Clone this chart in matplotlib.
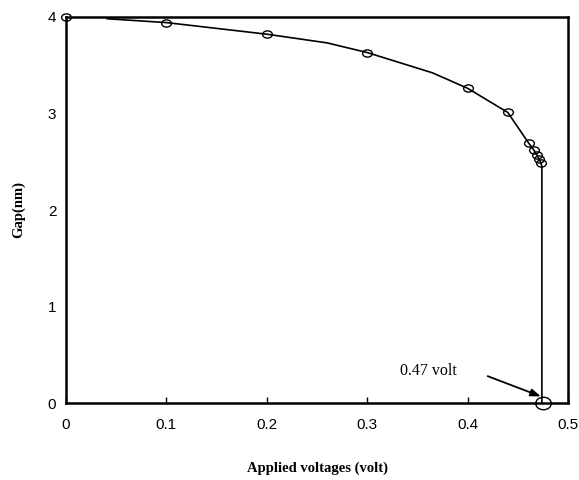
import matplotlib
matplotlib.use("Agg")
import matplotlib.pyplot as plt
from matplotlib.markers import MarkerStyle
from matplotlib.transforms import Affine2D

# marker data (volt, nm)
volts = [0.0, 0.10, 0.20, 0.30, 0.40, 0.44, 0.461, 0.466, 0.469, 0.471, 0.473]
gap = [4.0, 3.94, 3.82, 3.63, 3.26, 3.01, 2.69, 2.62, 2.57, 2.53, 2.49]

# connecting curve (starts a bit right of zero, then drops vertically at pull-in)
line_volts = [0.041, 0.10, 0.20, 0.26, 0.30, 0.365, 0.40, 0.44, 0.461, 0.466, 0.469, 0.471, 0.473, 0.474, 0.474]
line_gap = [3.98, 3.94, 3.82, 3.73, 3.63, 3.42, 3.26, 3.01, 2.69, 2.62, 2.57, 2.53, 2.49, 2.45, 0.0]

pullin_v = [0.475]
pullin_g = [0.0]

xticks = [0, 0.1, 0.2, 0.3, 0.4, 0.5]
xticklabels = ["0", "0.1", "0.2", "0.3", "0.4", "0.5"]
yticks = [0, 1, 2, 3, 4]

fig = plt.figure(figsize=(5.79, 4.8), dpi=100)
ax = fig.add_axes([0.114, 0.160, 0.867, 0.805])

ax.plot(line_volts, line_gap, color="black", lw=1.2, zorder=2)
m_small = MarkerStyle("o", fillstyle="none", transform=Affine2D().scale(1.35, 1.0))
ax.plot(volts, gap, linestyle="none", marker=m_small, markersize=5.2,
        markeredgecolor="black", markeredgewidth=1.0, color="black", zorder=3, clip_on=False)
m_big = MarkerStyle("o", fillstyle="none", transform=Affine2D().scale(1.25, 1.0))
ax.plot(pullin_v, pullin_g, linestyle="none", marker=m_big, markersize=9,
        markeredgecolor="black", markeredgewidth=1.0, zorder=3, clip_on=False)

ax.text(0.333, 0.29, "0.47 volt", ha="left", va="baseline",
        fontsize=11.5, family="Liberation Serif")
ax.annotate("", xy=(0.473, 0.07), xytext=(0.420, 0.28), textcoords="data",
            arrowprops=dict(arrowstyle="-|>,head_length=0.6,head_width=0.22",
                            color="black", lw=1.3, shrinkA=0, shrinkB=0))

ax.set_xlim(0, 0.5)
ax.set_ylim(0, 4)
ax.set_xticks(xticks)
ax.set_xticklabels(xticklabels)
ax.set_yticks(yticks)

for lab in ax.get_xticklabels() + ax.get_yticklabels():
    lab.set_family("Liberation Sans")
    lab.set_fontsize(11)

ax.tick_params(axis="x", direction="in", length=4, width=1, pad=11)
ax.tick_params(axis="y", length=0, pad=7)

for s in ax.spines.values():
    s.set_linewidth(1.8)
    s.set_color("black")

ax.set_xlabel("Applied voltages (volt)", family="Liberation Serif",
              fontweight="bold", fontsize=10.5, labelpad=21)
ax.set_ylabel("Gap(nm)", family="Liberation Serif",
              fontweight="bold", fontsize=10.5, labelpad=16)

fig.savefig("out.png", dpi=100)
